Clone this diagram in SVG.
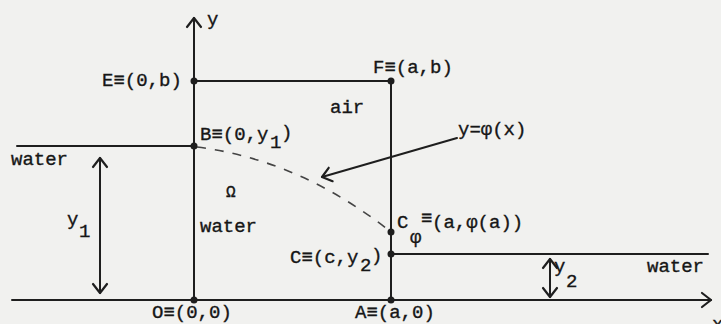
<svg xmlns="http://www.w3.org/2000/svg" width="721" height="324" viewBox="0 0 721 324">
<defs>
<style>
.ln{stroke:#1e1e1e;stroke-width:2;fill:none;stroke-linecap:round}
.dash{stroke:#444;stroke-width:1.6;fill:none;stroke-dasharray:9 9}
.dot{fill:#1e1e1e}
text{font-family:"Liberation Mono","DejaVu Sans Mono",monospace;font-size:19px;fill:#161616;stroke:#161616;stroke-width:0.35}
.sm{font-size:16px}
</style>
<marker id="ah" viewBox="-12 -9 14 18" markerWidth="14" markerHeight="18" refX="0" refY="0" orient="auto-start-reverse" markerUnits="userSpaceOnUse">
<path d="M-9,-7 L0,0 L-9,7" fill="none" stroke="#1e1e1e" stroke-width="2.2" stroke-linecap="round" stroke-linejoin="round"/>
</marker>
</defs>
<rect width="721" height="324" fill="#f1f1ef"/>
<g id="connectors">
<line class="ln" x1="194" y1="300" x2="194" y2="18" marker-end="url(#ah)"/>
<line class="ln" x1="12" y1="300" x2="711" y2="300" marker-end="url(#ah)"/>
<line class="ln" x1="194" y1="81" x2="391" y2="81"/>
<line class="ln" x1="391" y1="81" x2="391" y2="300"/>
<line class="ln" x1="17" y1="146" x2="194" y2="146"/>
<line class="ln" x1="391" y1="254" x2="708" y2="254"/>
<path class="dash" d="M197,147 Q300,160 391,232"/>
<line class="ln" x1="100" y1="158" x2="100" y2="293" marker-start="url(#ah)" marker-end="url(#ah)"/>
<line class="ln" x1="550" y1="259" x2="550" y2="297" marker-start="url(#ah)" marker-end="url(#ah)"/>
<line class="ln" x1="457" y1="138" x2="322" y2="177" marker-end="url(#ah)"/>
</g>
<g id="axis-y"><text x="207" y="25">y</text></g>
<g id="axis-x"><text x="712" y="330">x</text></g>
<g id="E"><circle class="dot" cx="194" cy="81" r="3.5"/><text x="102" y="86">E≡(0,b)</text></g>
<g id="F"><circle class="dot" cx="391" cy="81" r="3.5"/><text x="373" y="73">F≡(a,b)</text></g>
<g id="B"><circle class="dot" cx="194" cy="146" r="3.5"/><text x="200" y="140">B≡(0,y</text><text x="270" y="148">1</text><text x="281" y="138">)</text></g>
<g id="O"><circle class="dot" cx="194" cy="300" r="3.5"/><text x="152" y="318">O≡(0,0)</text></g>
<g id="A"><circle class="dot" cx="391" cy="300" r="3.5"/><text x="355" y="318">A≡(a,0)</text></g>
<g id="C"><circle class="dot" cx="391" cy="254" r="3.5"/><text x="290" y="263">C≡(c,y</text><text x="360" y="271">2</text><text x="371" y="261">)</text></g>
<g id="Cphi"><circle class="dot" cx="391" cy="232" r="3.5"/><text x="397" y="228">C</text><text x="410" y="243">φ</text><text x="421" y="224">≡</text><text x="432" y="228">(a,φ(a))</text></g>
<g id="curve-label"><text x="458" y="135">y=φ(x)</text></g>
<g id="region-air"><text x="330" y="113">air</text></g>
<g id="region-omega"><text class="sm" x="226" y="197">Ω</text><text x="200" y="232">water</text></g>
<g id="water-left"><text x="11" y="165">water</text></g>
<g id="water-right"><text x="647" y="272">water</text></g>
<g id="dim-y1"><text x="67" y="225">y</text><text x="79" y="237">1</text></g>
<g id="dim-y2"><text x="554" y="272">y</text><text x="566" y="287">2</text></g>
</svg>
